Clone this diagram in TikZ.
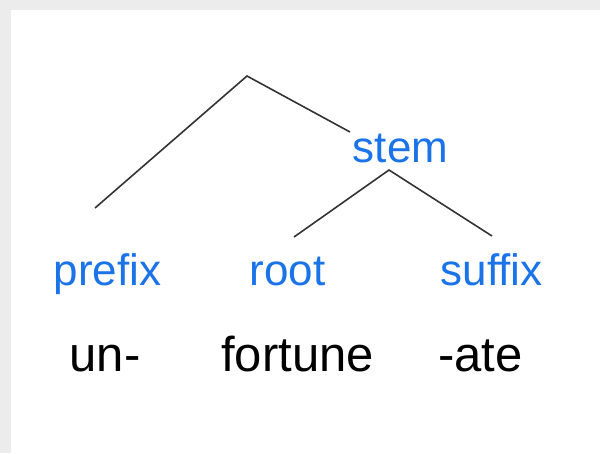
\documentclass[tikz,border=0pt]{standalone}
\usepackage{fontspec}
\setmainfont{Liberation Sans}
\definecolor{morphblue}{HTML}{1A73E8}
\definecolor{framegray}{HTML}{ECECEC}
\definecolor{branch}{HTML}{333333}
\begin{document}
\begin{tikzpicture}[x=1pt,y=-1pt,
  label/.style={anchor=base,inner sep=0pt,text=morphblue,font=\fontsize{44}{50}\selectfont},
  word/.style={anchor=base,inner sep=0pt,text=black,font=\fontsize{49}{56}\selectfont},
  edge/.style={draw=branch,line width=1.6pt}]
  % page frame
  \fill[framegray] (0,0) rectangle (600,453);
  \fill[white] (11,10) rectangle (600,453);
  \useasboundingbox (0,0) rectangle (600,453);

  % category labels
  \node[label] (stem)   at (400.5,162) {stem};
  \node[label] (prefix) at (107.5,285) {prefix};
  \node[label] (root)   at (287.5,285) {root};
  \node[label] (suffix) at (491.5,285) {suffix};

  % morphemes
  \node[word] (un)      at (105,371.5) {un-};
  \node[word] (fortune) at (297.5,371.5) {fortune};
  \node[word] (ate)     at (480.5,371.5) {-ate};

  % branch points
  \coordinate (top)    at (247,76);
  \coordinate (topL)   at (95,208);
  \coordinate (topR)   at (350,132);
  \coordinate (stemT)  at (389,170);
  \coordinate (stemL)  at (294,237);
  \coordinate (stemR)  at (492,236);

  \draw[edge] (topL) -- (top) -- (topR);
  \draw[edge] (stemL) -- (stemT) -- (stemR);
\end{tikzpicture}
\end{document}
